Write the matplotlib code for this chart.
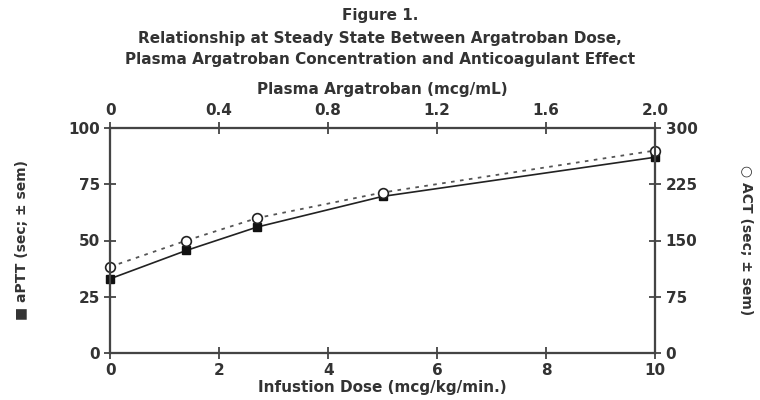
import matplotlib.pyplot as plt

# infusion dose (mcg/kg/min) and measured effects
dose = [0, 1.4, 2.7, 5.0, 10]
aptt = [33, 45.6, 56, 69.6, 87]      # sec
act = [115, 150, 180, 214, 270]      # sec

plasma_ticks = [0, 0.4, 0.8, 1.2, 1.6, 2.0]
plasma_labels = ['0', '0.4', '0.8', '1.2', '1.6', '2.0']

plt.rcParams['font.family'] = ['DejaVu Sans Condensed', 'Liberation Sans Narrow', 'DejaVu Sans']
plt.rcParams['font.weight'] = 'bold'
plt.rcParams['axes.labelweight'] = 'bold'
txt = '#333333'

fig = plt.figure(figsize=(7.6, 4), dpi=100)
ax = fig.add_axes([0.145, 0.1175, 0.717, 0.5625])

ax.plot(dose, aptt, color='#222222', lw=1.2, marker='s', ms=6,
        mfc='#111111', mec='#111111', zorder=3, clip_on=False)
ax.set_xlim(0, 10)
ax.set_ylim(0, 100)
ax.set_xticks([0, 2, 4, 6, 8, 10])
ax.set_yticks([0, 25, 50, 75, 100])

ax2 = ax.twinx()
ax2.plot(dose, act, color='#555555', lw=1.3, ls=(0, (2, 3)), marker='o',
         ms=7, mfc='white', mec='#222222', mew=1.2, zorder=4, clip_on=False)
ax2.set_ylim(0, 300)
ax2.set_yticks([0, 75, 150, 225, 300])

ax3 = ax.twiny()
ax3.set_xlim(0, 2.0)
ax3.set_xticks(plasma_ticks)
ax3.set_xticklabels(plasma_labels)

for a in (ax, ax2, ax3):
    for s in a.spines.values():
        s.set_color('#444444')
        s.set_linewidth(1.5)
    a.tick_params(direction='inout', length=8, width=1.3, colors='#444444',
                  labelcolor=txt, labelsize=11)

ax.set_xlabel('Infustion Dose (mcg/kg/min.)', fontsize=11, color=txt,
              labelpad=1)
ax.set_ylabel('\u25a0 aPTT (sec; \u00b1 sem)', fontsize=10, color=txt,
              labelpad=28)
ax2.set_ylabel('\u25cb ACT (sec; \u00b1 sem)', fontsize=10, color=txt,
               rotation=270, labelpad=40)
ax3.set_xlabel('Plasma Argatroban (mcg/mL)', fontsize=11, color=txt,
               labelpad=6)

fig.text(0.5, 0.962, 'Figure 1.', ha='center', va='center', fontsize=11,
         color=txt)
fig.text(0.5, 0.905, 'Relationship at Steady State Between Argatroban Dose,',
         ha='center', va='center', fontsize=11, color=txt)
fig.text(0.5, 0.852, 'Plasma Argatroban Concentration and Anticoagulant Effect',
         ha='center', va='center', fontsize=11, color=txt)

fig.savefig('out.png', dpi=100)
